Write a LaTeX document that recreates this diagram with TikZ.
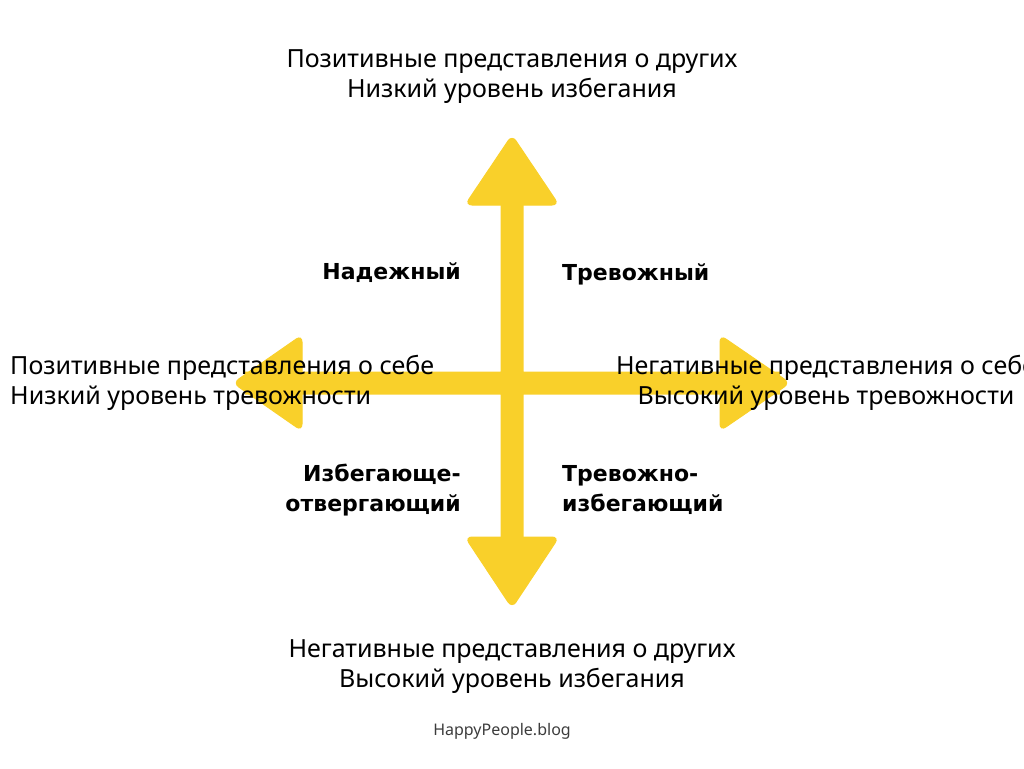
\documentclass[tikz,border=0pt]{standalone}
\usepackage{fontspec}
\setmainfont{Noto Sans}
\newfontfamily\quadfont{DejaVu Sans}
\definecolor{arrowyellow}{RGB}{249,208,42}
\definecolor{blogtext}{RGB}{60,60,60}
\tikzset{
    shaft/.style={fill=arrowyellow, draw=none},
    head/.style={fill=arrowyellow, draw=arrowyellow, line width=1pt, rounded corners=7pt},
    axislabel/.style={inner sep=0pt, font=\fontsize{25}{30}\selectfont},
    quadrant/.style={inner sep=0pt, font=\quadfont\bfseries\fontsize{22}{30}\selectfont},
}
\begin{document}
\begin{tikzpicture}
        [x=1pt, y=-1pt]
        \useasboundingbox (0,0) rectangle (1024,768);
        % arrows
        \coordinate (c) at (512,383);
        \draw[shaft]
            (500.5,195) rectangle (523.5,545)
            (245,371.5) rectangle (780,394.5);
        \draw[head]
            (512,135)--(559,205)--(465,205)--cycle;
        \draw[head]
            (512,608)--(465,537)--(559,537)--cycle;
        \draw[head]
            (233,383)--(302,335)--(302,431)--cycle;
        \draw[head]
            (790,383)--(720,335)--(720,431)--cycle;
        % axis texts
        \node[axislabel, align=center] (posOthers) at (512,77)
            {Позитивные представления о других\\Низкий уровень избегания};
        \node[axislabel, align=center] (negOthers) at (512,667)
            {Негативные представления о других\\Высокий уровень избегания};
        \node[axislabel, align=left, anchor=west] (posSelf) at (10,383)
            {Позитивные представления о себе\\Низкий уровень тревожности};
        \node[axislabel, align=center] (negSelf) at (826,383)
            {Негативные представления о себе\\Высокий уровень тревожности};
        % quadrants
        \node[quadrant, anchor=east] (secure) at (461,273) {Надежный};
        \node[quadrant, anchor=west] (anxious) at (562,274) {Тревожный};
        \node[quadrant, align=right, anchor=east] (avoidant) at (461,490)
            {Избегающе-\\отвергающий};
        \node[quadrant, align=left, anchor=west] (fearful) at (562,490)
            {Тревожно-\\избегающий};
        \node[inner sep=0pt, text=blogtext, font=\fontsize{16}{18}\selectfont] (blog) at (502,731)
            {HappyPeople.blog};
\end{tikzpicture}
\end{document}
